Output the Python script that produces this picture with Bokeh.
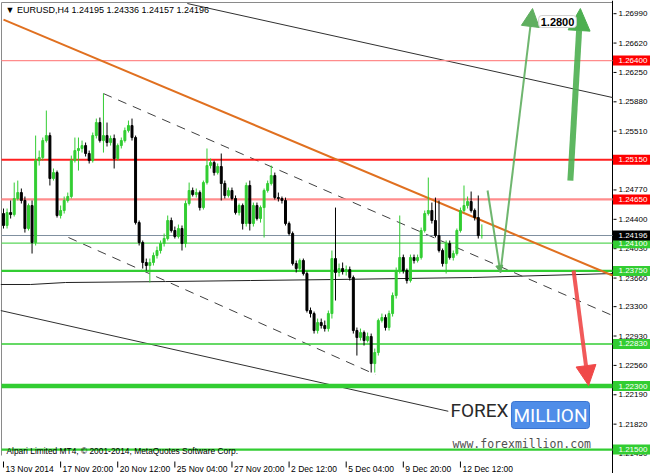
from bokeh.plotting import figure
from bokeh.models import Range1d, Label, Arrow, NormalHead, ColumnDataSource
from bokeh.embed import file_html
from bokeh.resources import INLINE
from bokeh.core.properties import value

# ---------------- data ----------------
header = "\u25bc EURUSD,H4  1.24195 1.24336 1.24157 1.24196"

opens = [1.24473, 1.24322, 1.24485, 1.24460, 1.24662, 1.24737, 1.24637, 1.24284, 1.24574, 1.24108,
         1.25140, 1.25178, 1.25392, 1.25455, 1.24914, 1.24989, 1.24448, 1.24511, 1.24637, 1.24687,
         1.25140, 1.25266, 1.25292, 1.25329, 1.25229, 1.25140, 1.25455, 1.25619, 1.25392, 1.25455,
         1.25367, 1.25418, 1.25166, 1.25329, 1.25392, 1.25518, 1.25581, 1.25430, 1.24359, 1.24108,
         1.23856, 1.23818, 1.23856, 1.23944, 1.24007, 1.24095, 1.24158, 1.24385, 1.24259, 1.24183,
         1.24284, 1.24095, 1.24599, 1.24763, 1.24712, 1.24737, 1.24548, 1.24863, 1.25077, 1.25115,
         1.24989, 1.25065, 1.24851, 1.24700, 1.24763, 1.24662, 1.24485, 1.24574, 1.24347, 1.24826,
         1.24347, 1.24574, 1.24410, 1.24548, 1.24763, 1.24851, 1.24951, 1.24674, 1.24662, 1.24637,
         1.24347, 1.24221, 1.23843, 1.23780, 1.23881, 1.23717, 1.23251, 1.23213, 1.22999, 1.23100,
         1.23062, 1.23024, 1.23213, 1.23906, 1.23730, 1.23780, 1.23742, 1.23767, 1.23667, 1.22999,
         1.22911, 1.22974, 1.22873, 1.22924, 1.22583, 1.22722, 1.23125, 1.23163, 1.23037, 1.23213,
         1.23440, 1.23755, 1.23919, 1.23755, 1.23629, 1.23919, 1.23881, 1.23919, 1.24259, 1.24473,
         1.24511, 1.24385, 1.24196, 1.24007, 1.23843, 1.24095, 1.23919, 1.23969, 1.24259, 1.24511,
         1.24574, 1.24624, 1.24511, 1.24422, 1.24195]
highs = [1.24536, 1.24536, 1.24637, 1.24863, 1.24888, 1.24788, 1.24687, 1.24599, 1.24637, 1.25455,
         1.25266, 1.25430, 1.25770, 1.25493, 1.25040, 1.25014, 1.24574, 1.24687, 1.24737, 1.25203,
         1.25430, 1.25430, 1.25392, 1.25367, 1.25266, 1.25493, 1.25669, 1.25682, 1.25984, 1.25619,
         1.25455, 1.25468, 1.25355, 1.25430, 1.25556, 1.25644, 1.25669, 1.25455, 1.24385, 1.24133,
         1.23906, 1.23906, 1.23982, 1.24057, 1.24133, 1.24221, 1.24448, 1.24422, 1.24309, 1.24334,
         1.24322, 1.24637, 1.24863, 1.24800, 1.24788, 1.24763, 1.24888, 1.25292, 1.25166, 1.25140,
         1.25103, 1.25229, 1.24888, 1.24800, 1.24800, 1.24700, 1.24599, 1.24599, 1.24863, 1.24888,
         1.24611, 1.24611, 1.24574, 1.24788, 1.24888, 1.25077, 1.24989, 1.24737, 1.24687, 1.24674,
         1.24372, 1.24246, 1.23881, 1.23906, 1.23906, 1.23742, 1.23289, 1.23238, 1.23150, 1.23150,
         1.23125, 1.23251, 1.24007, 1.24548, 1.23843, 1.23856, 1.23818, 1.23805, 1.23692, 1.23037,
         1.23024, 1.22999, 1.22974, 1.22961, 1.22772, 1.23150, 1.23213, 1.23201, 1.23251, 1.23478,
         1.23793, 1.24448, 1.23956, 1.23780, 1.23956, 1.23956, 1.23956, 1.24296, 1.24511, 1.24926,
         1.24611, 1.24674, 1.24637, 1.24032, 1.24133, 1.24133, 1.24007, 1.24284, 1.24548, 1.24826,
         1.24687, 1.24750, 1.24536, 1.24700, 1.24336]
lows = [1.24284, 1.24284, 1.24410, 1.24435, 1.24637, 1.24599, 1.24233, 1.24259, 1.23969, 1.24070,
        1.25077, 1.25140, 1.25367, 1.24826, 1.24888, 1.24422, 1.24410, 1.24473, 1.24611, 1.24662,
        1.25115, 1.25014, 1.25241, 1.25191, 1.25103, 1.25115, 1.25418, 1.25367, 1.25241, 1.25317,
        1.25329, 1.25040, 1.25140, 1.25292, 1.25367, 1.25493, 1.25392, 1.24334, 1.24070, 1.23780,
        1.23755, 1.23604, 1.23818, 1.23906, 1.23969, 1.24057, 1.24133, 1.24233, 1.24158, 1.24158,
        1.24007, 1.24045, 1.24574, 1.24687, 1.24674, 1.24511, 1.24523, 1.24838, 1.25040, 1.24951,
        1.24964, 1.24637, 1.24662, 1.24674, 1.24637, 1.24460, 1.24448, 1.24271, 1.24309, 1.24259,
        1.24309, 1.24385, 1.24359, 1.24171, 1.24737, 1.24826, 1.24649, 1.24624, 1.24599, 1.24322,
        1.24196, 1.23818, 1.23730, 1.23755, 1.23692, 1.23226, 1.23163, 1.22961, 1.22961, 1.23024,
        1.22986, 1.22986, 1.23150, 1.23377, 1.23679, 1.23704, 1.23692, 1.23629, 1.22961, 1.22684,
        1.22873, 1.22810, 1.22848, 1.22470, 1.22470, 1.22684, 1.23100, 1.22999, 1.22999, 1.23175,
        1.23402, 1.23717, 1.23717, 1.23591, 1.23604, 1.23843, 1.23856, 1.23893, 1.24233, 1.24448,
        1.24347, 1.24171, 1.23982, 1.23805, 1.23717, 1.23893, 1.23881, 1.23944, 1.24233, 1.24485,
        1.24536, 1.24485, 1.24385, 1.24158, 1.24157]
closes = [1.24322, 1.24485, 1.24460, 1.24662, 1.24737, 1.24637, 1.24284, 1.24574, 1.24108, 1.25140,
          1.25178, 1.25392, 1.25455, 1.24914, 1.24989, 1.24448, 1.24511, 1.24637, 1.24687, 1.25140,
          1.25266, 1.25292, 1.25329, 1.25229, 1.25140, 1.25455, 1.25619, 1.25392, 1.25455, 1.25367,
          1.25418, 1.25166, 1.25329, 1.25392, 1.25518, 1.25581, 1.25430, 1.24359, 1.24108, 1.23856,
          1.23818, 1.23856, 1.23944, 1.24007, 1.24095, 1.24158, 1.24385, 1.24259, 1.24183, 1.24284,
          1.24095, 1.24599, 1.24763, 1.24712, 1.24737, 1.24548, 1.24863, 1.25077, 1.25115, 1.24989,
          1.25065, 1.24851, 1.24700, 1.24763, 1.24662, 1.24485, 1.24574, 1.24347, 1.24826, 1.24347,
          1.24574, 1.24410, 1.24548, 1.24763, 1.24851, 1.24951, 1.24674, 1.24662, 1.24637, 1.24347,
          1.24221, 1.23843, 1.23780, 1.23881, 1.23717, 1.23251, 1.23213, 1.22999, 1.23100, 1.23062,
          1.23024, 1.23213, 1.23906, 1.23730, 1.23780, 1.23742, 1.23767, 1.23667, 1.22999, 1.22911,
          1.22974, 1.22873, 1.22924, 1.22583, 1.22722, 1.23125, 1.23163, 1.23037, 1.23213, 1.23440,
          1.23755, 1.23919, 1.23755, 1.23629, 1.23919, 1.23881, 1.23919, 1.24259, 1.24473, 1.24511,
          1.24385, 1.24196, 1.24007, 1.23843, 1.24095, 1.23919, 1.23969, 1.24259, 1.24511, 1.24574,
          1.24624, 1.24511, 1.24422, 1.24195, 1.24196]

time_label_bars = [0, 16, 32, 48, 64, 80, 96, 112, 128]
time_labels = ["13 Nov 2014", "17 Nov 20:00", "20 Nov 12:00", "25 Nov 04:00", "27 Nov 20:00",
               "2 Dec 12:00", "5 Dec 04:00", "9 Dec 20:00", "12 Dec 12:00"]
price_ticks = [1.26990, 1.26620, 1.26250, 1.25880, 1.25510, 1.25150, 1.24770, 1.24400, 1.24030,
               1.23660, 1.23300, 1.22930, 1.22560, 1.22190, 1.21820, 1.21450]

level_prices = [1.26400, 1.25150, 1.24650, 1.24100, 1.23750, 1.22830, 1.22300, 1.21500]
current_price = 1.24196
target_text = "1.2800"

# drawn objects, in (bar index, price)
orange_line = ([0.0, 170.6], [1.26916, 1.23692])
upper_channel = ([51.5, 170.6], [1.27118, 1.25934])
lower_channel = ([-0.8, 124.6], [1.23251, 1.21982])
dash_upper = ([28.0, 170.6], [1.25984, 1.23188])
dash_lower = ([18.2, 104.2], [1.24171, 1.22445])
ma_line = ([-0.8, 7.6, 17.4, 45.4, 69.2, 91.6, 131.4, 170.6],
           [1.23579, 1.23579, 1.23604, 1.23616, 1.23629, 1.23641, 1.23667, 1.23717])
scenario_v = ([135.6, 139.2, 148.2], [1.24763, 1.23730, 1.27055])
bull_arrow = ([158.8, 161.6], [1.24888, 1.27055])
bear_arrow = ([159.7, 163.9], [1.23755, 1.22306])
target_pos = (155.2, 1.26891)
logo_pos = {"FOREX": (125.2, 1.21991), "MILLION": (142.3, 1.21935), "www": (125.8, 1.21576)}

# ---------------- layout / styles ----------------
GREEN = "#32cd32"
RED = "#ff0000"
FONT = "Liberation Sans"
W, H = 650, 473
CL, CR, CT, CB = 1, 612, 2, 455          # chart box inside the figure, px
i_lo, i_hi = -0.56, 170.6                # bar index range of the chart box
p_lo, p_hi = 1.21425, 1.27131            # price range of the chart box
kx = (CR - CL) / (i_hi - i_lo)
ky = (CB - CT) / (p_hi - p_lo)
xr = Range1d(i_lo - CL / kx, i_hi + (W - CR) / kx)
yr = Range1d(p_lo - (H - CB) / ky, p_hi + CT / ky)

p = figure(width=W, height=H, x_range=xr, y_range=yr, x_axis_location=None,
           y_axis_location=None, output_backend="svg", toolbar_location=None,
           min_border=0, background_fill_color="white", border_fill_color="white")
p.grid.visible = False
p.outline_line_color = None

# frame borders and price-scale line
p.segment(x0=[i_lo, i_lo], y0=[p_hi, p_lo], x1=[i_hi, i_lo], y1=[p_hi, p_hi],
          line_color="#8a8a8a", line_width=1)
p.segment(x0=[i_hi], y0=[yr.start], x1=[i_hi], y1=[yr.end], line_color="#000000", line_width=1)

# price scale ticks + labels
p.segment(x0=[i_hi + 1 / kx] * len(price_ticks), y0=price_ticks,
          x1=[i_hi + 4 / kx] * len(price_ticks), y1=price_ticks, line_color="#000000")
p.text(x=[i_hi] * len(price_ticks), y=price_ticks, text=["%.5f" % t for t in price_ticks],
       x_offset=6, text_align="left", text_baseline="middle", text_font=value(FONT),
       text_font_size="8px", text_color="#000000")

# time scale ticks + labels
p.segment(x0=time_label_bars, y0=[p_lo - 6 / ky] * len(time_label_bars),
          x1=time_label_bars, y1=[p_lo - 12 / ky] * len(time_label_bars), line_color="#000000")
p.text(x=time_label_bars, y=[p_lo] * len(time_label_bars), text=time_labels,
       x_offset=2, y_offset=13, text_align="left", text_baseline="alphabetic",
       text_font=value(FONT), text_font_size="8.5px", text_color="#000000")

level_styles = {
    1.26400: ("#ff8c8c", 1.2, RED),
    1.25150: ("#ff2020", 2.2, RED),
    1.24650: ("#ff8c8c", 2.2, RED),
    1.24100: ("#5ad65a", 1.2, GREEN),
    1.23750: (GREEN, 2.2, GREEN),
    1.22830: (GREEN, 1.6, GREEN),
    1.22300: (GREEN, 4.5, GREEN),
    1.21500: (GREEN, 2.2, GREEN),
}

# trend lines and channel
p.line(ma_line[0], ma_line[1], line_color="#202020", line_width=1)
p.line(upper_channel[0], upper_channel[1], line_color="#303030", line_width=1)
p.line(lower_channel[0], lower_channel[1], line_color="#303030", line_width=1)
p.line(dash_upper[0], dash_upper[1], line_color="#404040", line_width=1, line_dash="9 7")
p.line(dash_lower[0], dash_lower[1], line_color="#404040", line_width=1, line_dash="9 7")

# horizontal levels (inside the chart box)
for lv in level_prices:
    c, w, _ = level_styles[lv]
    p.segment(x0=[i_lo], y0=[lv], x1=[i_hi], y1=[lv], line_color=c, line_width=w)
p.segment(x0=[i_lo], y0=[current_price], x1=[i_hi], y1=[current_price],
          line_color="#8090a0", line_width=1)

p.line(orange_line[0], orange_line[1], line_color="#e07020", line_width=2)

# candles
n = len(opens)
src = ColumnDataSource(dict(
    x=list(range(n)), high=highs, low=lows,
    top=[max(o, c) for o, c in zip(opens, closes)],
    bottom=[min(o, c) for o, c in zip(opens, closes)],
    color=[GREEN if c >= o else "#000000" for o, c in zip(opens, closes)],
))
p.segment(x0="x", y0="high", x1="x", y1="low", color="color", line_width=1, source=src)
p.vbar(x="x", top="top", bottom="bottom", width=0.55, fill_color="color", line_color="color",
       line_width=1, source=src)

# scenario arrows
VG = "#5fae5f"
p.add_layout(Arrow(x_start=scenario_v[0][0], y_start=scenario_v[1][0],
                   x_end=scenario_v[0][1], y_end=scenario_v[1][1],
                   line_color=VG, line_width=2, line_alpha=0.9,
                   end=NormalHead(size=7, fill_color=VG, line_color=VG)))
p.add_layout(Arrow(x_start=scenario_v[0][1], y_start=scenario_v[1][1],
                   x_end=scenario_v[0][2], y_end=scenario_v[1][2],
                   line_color=VG, line_width=2, line_alpha=0.9,
                   end=NormalHead(size=18, fill_color=VG, line_color=VG)))
p.add_layout(Arrow(x_start=bull_arrow[0][0], y_start=bull_arrow[1][0],
                   x_end=bull_arrow[0][1], y_end=bull_arrow[1][1],
                   line_color="#4caf50", line_width=6, line_alpha=0.9,
                   end=NormalHead(size=22, fill_color="#4caf50", line_color="#4caf50")))
p.add_layout(Arrow(x_start=bear_arrow[0][0], y_start=bear_arrow[1][0],
                   x_end=bear_arrow[0][1], y_end=bear_arrow[1][1],
                   line_color="#f04848", line_width=4, line_alpha=0.9,
                   end=NormalHead(size=20, fill_color="#f04848", line_color="#f04848")))

p.add_layout(Label(x=target_pos[0], y=target_pos[1], text=target_text, text_align="center",
                   text_baseline="middle", text_font=FONT, text_font_size="11px",
                   text_font_style="bold", text_color="#000000",
                   background_fill_color="white", border_line_color="#d0d0d0",
                   padding=2, border_radius=3))

# coloured price boxes on the price scale (current price on top)
box_prices = level_prices + [current_price]
box_colors = [level_styles[lv][2] for lv in level_prices] + ["#000000"]
p.quad(left=[i_hi + 0.5 / kx] * len(box_prices), right=[xr.end] * len(box_prices),
       top=[b + 5 / ky for b in box_prices], bottom=[b - 5 / ky for b in box_prices],
       fill_color=box_colors, line_color=None)
p.text(x=[i_hi] * len(box_prices), y=box_prices, text=["%.5f" % b for b in box_prices],
       x_offset=6, text_align="left", text_baseline="middle", text_font=value(FONT),
       text_font_size="8px", text_color="white")

# header and copyright
p.add_layout(Label(x=i_lo, y=p_hi, x_offset=4, y_offset=-7, text=header, text_align="left",
                   text_baseline="middle", text_font=FONT, text_font_size="9px",
                   text_color="#000000"))
p.add_layout(Label(x=i_lo, y=p_lo, x_offset=5, y_offset=5,
                   text="Alpari Limited MT4, \u00a9 2001-2014, MetaQuotes Software Corp.",
                   text_align="left", text_baseline="middle", text_font=FONT,
                   text_font_size="8.4px", text_color="#000000"))

# logo
p.add_layout(Label(x=logo_pos["FOREX"][0], y=logo_pos["FOREX"][1], text="FOREX",
                   text_align="left", text_baseline="middle",
                   text_font="Roboto", text_font_size="19px", text_color="#2a2a2a"))
p.add_layout(Label(x=logo_pos["MILLION"][0], y=logo_pos["MILLION"][1], text="MILLION",
                   text_align="left", text_baseline="middle",
                   text_font="Roboto", text_font_size="19px", text_color="white",
                   background_fill_color="#4f8de8", border_line_color="#3a74d0",
                   padding=2, border_radius=3))
p.add_layout(Label(x=logo_pos["www"][0], y=logo_pos["www"][1], text="www.forexmillion.com",
                   text_align="left", text_baseline="middle", text_font="DejaVu Sans Mono",
                   text_font_size="11.5px", text_color="#505050"))

open("out.html", "w").write(file_html(p, INLINE))
